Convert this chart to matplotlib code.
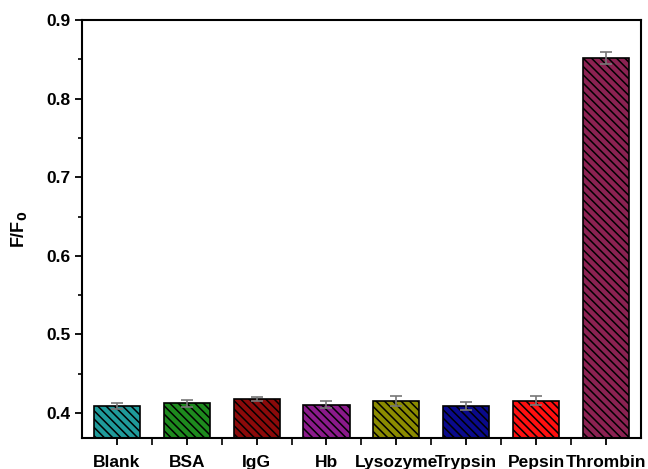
import numpy as np
import matplotlib.pyplot as plt
from matplotlib.ticker import MultipleLocator

# protein selectivity data
proteins = ['Blank', 'BSA', 'IgG', 'Hb', 'Lysozyme', 'Trypsin', 'Pepsin', 'Thrombin']
ratio = [0.409, 0.412, 0.418, 0.4105, 0.415, 0.409, 0.4155, 0.852]
ratio_err = [0.004, 0.005, 0.0025, 0.0045, 0.006, 0.005, 0.0055, 0.008]
bar_colors = ['#1f9a9a', '#1e8a1e', '#8b0a0a', '#8b1a8b', '#8b8b00', '#0a0a8b', '#ff1010', '#8b2252']

plt.rcParams['font.family'] = ['Liberation Sans', 'DejaVu Sans']
plt.rcParams['font.weight'] = 'bold'
plt.rcParams['hatch.linewidth'] = 1.1

fig = plt.figure(figsize=(6.48, 4.69), dpi=100)
ax = fig.add_axes([0.1265, 0.066, 0.8625, 0.891])

x = np.arange(1, len(proteins) + 1)
ax.bar(x, ratio, width=0.66, color=bar_colors, edgecolor='black', linewidth=1.2,
       hatch='\\\\\\\\', zorder=2)
ax.errorbar(x, ratio, yerr=ratio_err, fmt='none', ecolor='#777777', elinewidth=1.2,
            capsize=4, capthick=1.2, zorder=3)

ax.set_xlim(0.5, 8.5)
ax.set_ylim(0.368, 0.9)
ax.set_xticks(x)
ax.set_xticklabels(proteins, fontsize=12.5, fontweight='bold')
ax.xaxis.set_minor_locator(plt.FixedLocator(x[:-1] + 0.5))
ax.set_yticks([0.4, 0.5, 0.6, 0.7, 0.8, 0.9])
ax.yaxis.set_minor_locator(MultipleLocator(0.05))
for lab in ax.get_yticklabels():
    lab.set_fontsize(12.5)
    lab.set_fontweight('bold')
ax.set_ylabel('F/F$_\\mathbf{0}$', fontsize=13, fontweight='bold', labelpad=12)

for s in ax.spines.values():
    s.set_linewidth(1.5)
ax.tick_params(which='major', direction='out', length=5, width=1.3)
ax.tick_params(which='minor', direction='out', length=3, width=1.2)
ax.tick_params(axis='x', which='minor', length=5)
ax.tick_params(axis='x', which='major', pad=7)

fig.savefig('out.png', dpi=100)
